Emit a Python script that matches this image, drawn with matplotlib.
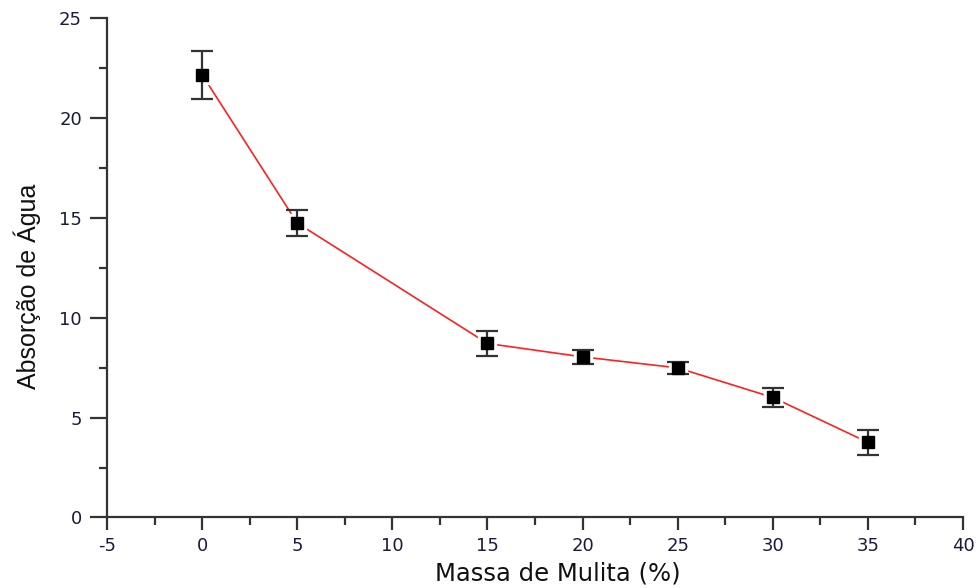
import matplotlib
matplotlib.use("Agg")
import matplotlib.pyplot as plt
from matplotlib.ticker import MultipleLocator

massa = [0, 5, 15, 20, 25, 30, 35]
absorcao = [22.16, 14.74, 8.71, 8.04, 7.49, 6.01, 3.76]
erro = [1.2, 0.67, 0.62, 0.36, 0.3, 0.47, 0.62]

plt.rcParams['font.family'] = ['DejaVu Sans']
plt.rcParams['axes.unicode_minus'] = False

fig = plt.figure(figsize=(9.79, 5.88), dpi=100)
ax = fig.add_axes([0.1093, 0.1199, 0.8744, 0.8495])

ax.plot(massa, absorcao, color='#ff2020', lw=1.2, zorder=1)
ax.plot(massa, absorcao, ls='none', marker='s', ms=13, mfc='white', mec='white', zorder=2)
ax.errorbar(massa, absorcao, yerr=erro, fmt='none', ecolor='#333333', elinewidth=1.6,
            capsize=8, capthick=1.6, zorder=3)
ax.plot(massa, absorcao, ls='none', marker='s', ms=9, mfc='black', mec='black', zorder=4)

ax.set_xlim(-5, 40)
ax.set_ylim(0, 25)
ax.xaxis.set_major_locator(MultipleLocator(5))
ax.xaxis.set_minor_locator(MultipleLocator(2.5))
ax.yaxis.set_major_locator(MultipleLocator(5))
ax.yaxis.set_minor_locator(MultipleLocator(2.5))

for s in ['top', 'right']:
    ax.spines[s].set_visible(False)
for s in ['left', 'bottom']:
    ax.spines[s].set_linewidth(1.6)
    ax.spines[s].set_color('#333333')

ax.tick_params(axis='y', which='major', length=12, width=1.6, color='#333333',
               labelsize=13, labelcolor='#1a1a3a', pad=6)
ax.tick_params(axis='y', which='minor', length=6, width=1.6, color='#333333')
ax.tick_params(axis='x', which='major', length=9, width=1.6, color='#333333',
               labelsize=13, labelcolor='#1a1a3a', pad=5)
ax.tick_params(axis='x', which='minor', length=6, width=1.6, color='#333333')

ax.set_xlabel('Massa de Mulita (%)', fontsize=17.5, color='#111111')
ax.xaxis.set_label_coords(0.527, -0.088)
ax.set_ylabel('Absorção de Água', fontsize=18, color='#111111',
              family=['Liberation Sans'])
ax.yaxis.set_label_coords(-0.077, 0.462)

fig.savefig('out.png', dpi=100)
